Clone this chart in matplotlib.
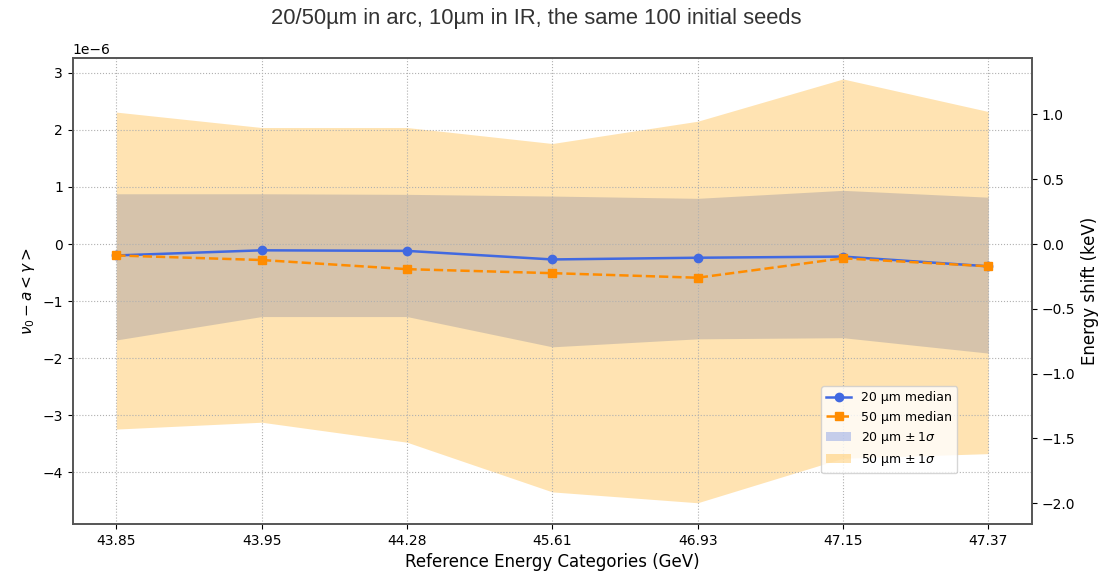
import numpy as np
import matplotlib
matplotlib.use("Agg")
import matplotlib.pyplot as plt

# reference energies (categorical x axis)
energies = ['43.85', '43.95', '44.28', '45.61', '46.93', '47.15', '47.37']

# spin tune offset, units of 1e-6
med_20 = np.array([-0.20, -0.11, -0.12, -0.27, -0.24, -0.22, -0.39]) * 1e-6
lo_20 = np.array([-1.68, -1.27, -1.27, -1.80, -1.66, -1.64, -1.91]) * 1e-6
hi_20 = np.array([0.88, 0.88, 0.87, 0.84, 0.80, 0.94, 0.82]) * 1e-6

med_50 = np.array([-0.20, -0.28, -0.44, -0.51, -0.59, -0.25, -0.39]) * 1e-6
lo_50 = np.array([-3.24, -3.12, -3.47, -4.34, -4.53, -3.75, -3.67]) * 1e-6
hi_50 = np.array([2.31, 2.04, 2.04, 1.76, 2.15, 2.89, 2.32]) * 1e-6

# delta nu -> energy shift: m_e c^2 / a  (keV per unit nu)
nu_to_kev = 0.51099895e3 / 0.00115965

x = np.arange(len(energies))

fig = plt.figure(figsize=(11.18, 5.72), dpi=100)
ax = fig.add_axes([0.065, 0.084, 0.858, 0.815])

ax.fill_between(x, lo_20, hi_20, color='royalblue', alpha=0.3, linewidth=0, label=r'20 µm $\pm\,1\sigma$')
ax.fill_between(x, lo_50, hi_50, color='orange', alpha=0.3, linewidth=0, label=r'50 µm $\pm\,1\sigma$')
ax.plot(x, med_20, '-o', color='royalblue', lw=1.8, ms=6, label='20 µm median')
ax.plot(x, med_50, '--s', color='darkorange', lw=1.8, ms=6, label='50 µm median')

ax.set_xticks(x)
ax.set_xticklabels(energies)
ax.set_xlabel('Reference Energy Categories (GeV)', fontsize=12)
ax.set_ylabel(r'$\nu_0 - a < \gamma >$', fontsize=11)
ax.grid(True, linestyle=':', color='#b0b0b0', linewidth=0.8)

handles, labels = ax.get_legend_handles_labels()
order = [2, 3, 0, 1]
ax.legend([handles[i] for i in order], [labels[i] for i in order],
          loc='lower right', bbox_to_anchor=(0.922, 0.109), borderaxespad=0, fontsize=9)

ax2 = ax.twinx()
lo, hi = ax.get_ylim()
ax2.set_ylim(lo * nu_to_kev, hi * nu_to_kev)
ax2.set_ylabel('Energy shift (keV)', fontsize=12)

for a in (ax, ax2):
    for s in a.spines.values():
        s.set_color('#555555')
        s.set_linewidth(1.2)

fig.text(0.48, 0.968, '20/50µm in arc, 10µm in IR, the same 100 initial seeds',
         family='Liberation Sans', fontsize=15.8, color='#333333', ha='center', va='center')

fig.savefig('out.png', dpi=100)
